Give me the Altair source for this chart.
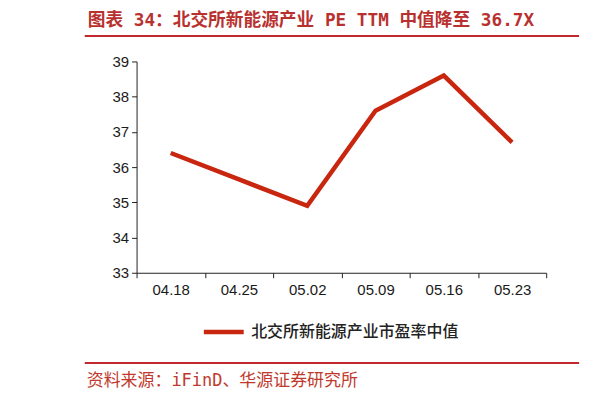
import altair as alt
import pandas as pd

dates = ["04.18", "04.25", "05.02", "05.09", "05.16", "05.23"]
pe_values = [36.4, 35.65, 34.9, 37.6, 38.6, 36.7]
series_name = "北交所新能源产业市盈率中值"
y_ticks = [33, 34, 35, 36, 37, 38, 39]
title_text = "图表 34：北交所新能源产业 PE TTM 中值降至 36.7X"
source_text = "资料来源：iFinD、华源证券研究所"

df = pd.DataFrame({"date": dates, "pe": pe_values, "series": [series_name] * len(dates)})

RED_LINE = "#C8260F"
RED_TXT = "#B8312F"
MONO_CJK = "DejaVu Sans Mono, Noto Sans CJK SC"

line = alt.Chart(df).mark_line(strokeWidth=4.5).encode(
    x=alt.X("date:O", sort=dates,
            scale=alt.Scale(type="band", paddingInner=0, paddingOuter=0),
            axis=alt.Axis(title=None, labelAngle=0, tickBand="extent", labelPadding=5)),
    y=alt.Y("pe:Q", scale=alt.Scale(domain=[33, 39], nice=False, zero=False),
            axis=alt.Axis(title=None, values=y_ticks, grid=False, labelPadding=3)),
    color=alt.Color("series:N", scale=alt.Scale(range=[RED_LINE]),
                    legend=alt.Legend(orient="none", legendX=65, legendY=249, title=None,
                                      symbolType="stroke", symbolSize=1600, symbolStrokeWidth=4.5,
                                      labelFontSize=16, labelFont="Noto Sans CJK SC",
                                      labelFontWeight=500, labelColor="#222",
                                      labelLimit=400, labelOffset=5, padding=0)),
)

title = alt.Chart(pd.DataFrame({"t": [title_text]})).mark_text(
    align="left", baseline="middle", fontSize=17.75, fontWeight="bold", font=MONO_CJK, color=RED_TXT
).encode(text="t:N", x=alt.value(-49), y=alt.value(-41))

top_rule = alt.Chart(pd.DataFrame({"a": [0]})).mark_rule(color="#C0282D", strokeWidth=2).encode(
    x=alt.value(-52), x2=alt.value(444), y=alt.value(-25.5))

bottom_rule = alt.Chart(pd.DataFrame({"a": [0]})).mark_rule(color="#C0282D", strokeWidth=2).encode(
    x=alt.value(-52), x2=alt.value(444), y=alt.value(302.5))

source = alt.Chart(pd.DataFrame({"t": [source_text]})).mark_text(
    align="left", baseline="middle", fontSize=17, font=MONO_CJK, color="#C0392B"
).encode(text="t:N", x=alt.value(-50), y=alt.value(321))

chart = alt.layer(line, title, top_rule, bottom_rule, source).properties(
    width=411, height=212,
    autosize=alt.AutoSizeParams(type="none"),
    padding={"left": 129, "top": 53, "right": 60, "bottom": 120},
).configure_view(strokeWidth=0).configure_axis(
    labelFont="Liberation Sans", labelFontSize=15, labelColor="#1a1a1a",
    domainColor="#222", tickColor="#222", tickSize=5, domainWidth=1, tickWidth=1,
)

chart.save("out.html", embed_options={"renderer": "svg", "actions": False})
